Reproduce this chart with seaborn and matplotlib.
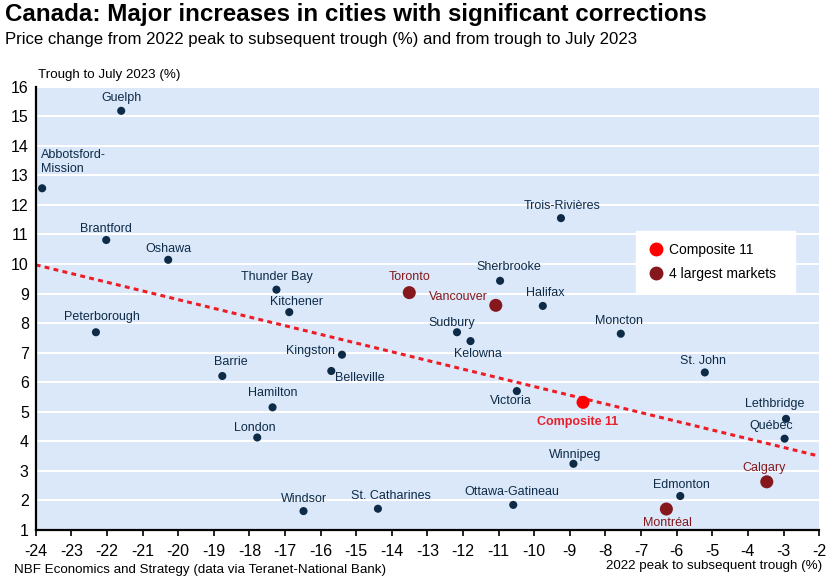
import matplotlib.pyplot as plt
import matplotlib.lines as mlines
import seaborn as sns
import pandas as pd

# Data
cities = ["Guelph", "Abbotsford-\nMission", "Brantford", "Oshawa", "Peterborough",
          "Thunder Bay", "Kitchener", "Barrie", "Kingston", "Belleville", "Hamilton",
          "London", "Windsor", "St. Catharines", "Toronto", "Trois-Rivières",
          "Sherbrooke", "Vancouver", "Halifax", "Sudbury", "Kelowna", "Moncton",
          "Victoria", "Composite 11", "St. John", "Lethbridge", "Québec", "Winnipeg",
          "Calgary", "Edmonton", "Ottawa-Gatineau", "Montréal"]
peak_to_trough = [-21.6, -23.82, -22.02, -20.28, -22.31,
                  -17.24, -16.88, -18.76, -15.40, -15.70, -17.35,
                  -17.78, -16.48, -14.39, -13.51, -9.25,
                  -10.96, -11.08, -9.76, -12.17, -11.79, -7.57,
                  -10.49, -8.63, -5.21, -2.93, -2.97, -8.90,
                  -3.47, -5.90, -10.59, -6.29]
trough_to_jul = [15.18, 12.56, 10.81, 10.14, 7.69,
                 9.13, 8.37, 6.21, 6.93, 6.38, 5.15,
                 4.13, 1.64, 1.72, 9.03, 11.55,
                 9.43, 8.60, 8.58, 7.69, 7.39, 7.64,
                 5.70, 5.32, 6.33, 4.76, 4.09, 3.24,
                 2.63, 2.15, 1.85, 1.71]
big4 = ["Toronto", "Vancouver", "Calgary", "Montréal"]
trend_x = [-24, -2]
trend_y = [9.97, 3.50]

NAVY = "#0D2B47"
DARKRED = "#84181C"
RED = "#FF0000"
BG = "#DBE8FA"

df = pd.DataFrame({"city": cities, "x": peak_to_trough, "y": trough_to_jul})
df["group"] = ["Composite" if c == "Composite 11" else ("Big4" if c in big4 else "Other")
               for c in df["city"]]

# label offsets in points (dx, dy, ha)
offsets = {
    "Guelph": (0, 9, "center"), "Abbotsford-\nMission": (-1, 19, "left"),
    "Brantford": (0, 8, "center"), "Oshawa": (0, 8, "center"),
    "Peterborough": (4, 11, "center"), "Thunder Bay": (0, 9, "center"),
    "Kitchener": (5, 7, "center"), "Barrie": (6, 10, "center"),
    "Kingston": (-5, 3, "right"), "Belleville": (3, -5, "left"),
    "Hamilton": (0, 10, "center"), "London": (-2, 7, "center"),
    "Windsor": (0, 9, "center"), "St. Catharines": (9, 9, "center"),
    "Toronto": (0, 11, "center"), "Trois-Rivières": (1, 9, "center"),
    "Sherbrooke": (6, 10, "center"), "Vancouver": (-6, 6, "right"),
    "Halifax": (2, 9, "center"), "Sudbury": (-4, 7, "center"),
    "Kelowna": (5, -9, "center"), "Moncton": (-1, 9, "center"),
    "Victoria": (-4, -7, "center"), "Composite 11": (-4, -14, "center"),
    "St. John": (-1, 8, "center"), "Lethbridge": (-8, 11, "center"),
    "Québec": (-10, 9, "center"), "Winnipeg": (1, 6, "center"),
    "Calgary": (-2, 10, "center"), "Edmonton": (1, 8, "center"),
    "Ottawa-Gatineau": (-1, 9, "center"), "Montréal": (1, -10, "center"),
}

plt.rcParams["font.family"] = ["Liberation Sans", "DejaVu Sans"]
plt.rcParams["axes.unicode_minus"] = False
fig = plt.figure(figsize=(8.35, 5.85), dpi=100)
ax = fig.add_axes([0.0428, 0.094, 0.9382, 0.758])
ax.set_facecolor(BG)

ax.plot(trend_x, trend_y, color="#EE1C25", lw=2.2, ls=(0, (1.6, 1.4)), zorder=2)

sns.scatterplot(data=df, x="x", y="y", hue="group", size="group",
                palette={"Other": NAVY, "Big4": DARKRED, "Composite": RED},
                sizes={"Other": 34, "Big4": 88, "Composite": 88},
                linewidth=0, legend=False, ax=ax, zorder=3)

for _, row in df.iterrows():
    dx, dy, ha = offsets[row["city"]]
    if row["city"] == "Composite 11":
        color, weight = "#E8202A", "bold"
    elif row["city"] in big4:
        color, weight = DARKRED, "normal"
    else:
        color, weight = NAVY, "normal"
    ax.annotate(row["city"], (row["x"], row["y"]), xytext=(dx, dy),
                textcoords="offset points", ha=ha, va="center", fontsize=9,
                color=color, fontweight=weight, linespacing=1.15, zorder=4)

ax.set_xlim(-24, -2)
ax.set_ylim(1, 16)
ax.set_xticks(range(-24, -1))
ax.set_yticks(range(1, 17))
ax.grid(axis="y", color="white", lw=1.5)
ax.set_axisbelow(True)
for s in ["top", "right"]:
    ax.spines[s].set_visible(False)
for s in ["left", "bottom"]:
    ax.spines[s].set_color("black")
    ax.spines[s].set_linewidth(1.6)
ax.tick_params(axis="x", direction="out", length=4, width=1.2, labelsize=11.5, pad=6)
ax.tick_params(axis="y", length=0, labelsize=11.5, pad=5)
ax.set_xlabel("")
ax.set_ylabel("")

handles = [
    mlines.Line2D([], [], ls="", marker="o", ms=9, color=RED, label="Composite 11   "),
    mlines.Line2D([], [], ls="", marker="o", ms=9, color=DARKRED, label="4 largest markets  "),
]
leg = fig.legend(handles=handles, loc="upper left", bbox_to_anchor=(636 / 835, 1 - 231 / 585),
                 frameon=True, fancybox=False, facecolor="white", edgecolor="white",
                 framealpha=1, fontsize=10, handletextpad=0.3, borderpad=0.85,
                 labelspacing=0.72, handlelength=1.2, borderaxespad=0)

fig.text(0.006, 0.975, "Canada: Major increases in cities with significant corrections",
         fontsize=17.4, fontweight="bold", va="center", ha="left")
fig.text(0.006, 0.932, "Price change from 2022 peak to subsequent trough (%) and from trough to July 2023",
         fontsize=12.1, va="center", ha="left")
fig.text(38 / 835, 1 - 75 / 585, "Trough to July 2023 (%)", fontsize=9.6, va="center", ha="left")
fig.text(14 / 835, 1 - 570 / 585, "NBF Economics and Strategy (data via Teranet-National Bank)",
         fontsize=9.6, va="center", ha="left")
fig.text(822 / 835, 1 - 566 / 585, "2022 peak to subsequent trough (%)",
         fontsize=9.6, va="center", ha="right")

fig.savefig("out.png", dpi=100)
